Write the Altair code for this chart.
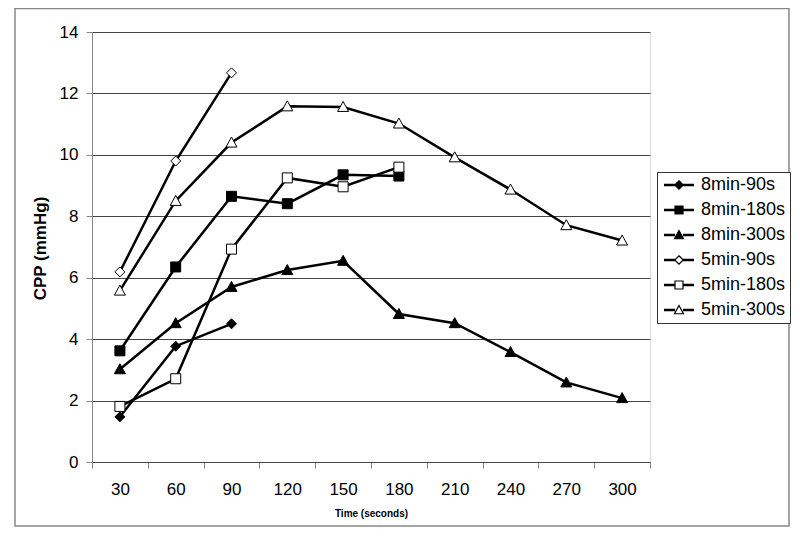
import altair as alt
import pandas as pd

times = [30, 60, 90, 120, 150, 180, 210, 240, 270, 300]
series = ["8min-90s", "8min-180s", "8min-300s", "5min-90s", "5min-180s", "5min-300s"]
v_8_90 = [1.47, 3.77, 4.50]
v_8_180 = [3.62, 6.35, 8.65, 8.41, 9.35, 9.31]
v_8_300 = [3.02, 4.52, 5.70, 6.25, 6.55, 4.82, 4.52, 3.58, 2.59, 2.08]
v_5_90 = [6.19, 9.80, 12.67]
v_5_180 = [1.81, 2.71, 6.93, 9.25, 8.96, 9.60]
v_5_300 = [5.58, 8.50, 10.40, 11.58, 11.56, 11.02, 9.92, 8.87, 7.71, 7.21]
fills = ["black", "black", "black", "white", "white", "white"]

values = [v_8_90, v_8_180, v_8_300, v_5_90, v_5_180, v_5_300]
rows = []
for name, vals in zip(series, values):
    for t, v in zip(times, vals):
        rows.append({"series": name, "time": t, "cpp": v})
df = pd.DataFrame(rows)

# marker shapes (unit space, scaled by size)
DIAM = "M0,-1L1,0L0,1L-1,0Z"
SQR = "M-1,-1H1V1H-1Z"
TRI = "M0,-1.1L1.1,0.9H-1.1Z"
marker_paths = [DIAM, SQR, TRI, DIAM, SQR, TRI]

LINE = ("M-3,-0.15H-0.8M-3,0.15H-0.8M-3,0H-0.8"
        "M0.8,-0.15H3M0.8,0.15H3M0.8,0H3")
L_DIAM = LINE + "M0,-0.85L0.85,0L0,0.85L-0.85,0Z"
L_SQR = LINE + "M-0.8,-0.8H0.8V0.8H-0.8Z"
L_TRI = LINE + "M0,-0.9L0.9,0.75H-0.9Z"
legend_paths = [L_DIAM, L_SQR, L_TRI, L_DIAM, L_SQR, L_TRI]

FONT = "Liberation Sans"

x_enc = alt.X(
    "time:O",
    bandPosition=0.5,
    scale=alt.Scale(type="band", domain=times, paddingInner=0, paddingOuter=0),
    axis=alt.Axis(
        title="Time (seconds)",
        titleFont=FONT, titleFontSize=10, titleFontWeight="bold", titleColor="black",
        titleY=51, titleBaseline="middle",
        labelFont=FONT, labelFontSize=17, labelColor="black", labelAngle=0,
        labelPadding=13, tickSize=6, tickBand="extent",
        tickColor="#888", domainColor="#444", grid=False,
    ),
)
y_enc = alt.Y(
    "cpp:Q",
    scale=alt.Scale(domain=[0, 14], nice=False),
    axis=alt.Axis(
        title="CPP (mmHg)", values=[0, 2, 4, 6, 8, 10, 12, 14],
        titleFont=FONT, titleFontSize=17, titleFontWeight="bold", titleColor="black",
        titleX=-52, titleY=216, titleAngle=-90, titleAlign="center", titleBaseline="middle",
        labelFont=FONT, labelFontSize=17, labelColor="black",
        labelPadding=8, tickSize=6, tickColor="#888", domainColor="#888",
        grid=True, gridColor="#444", gridWidth=1,
    ),
)

base = alt.Chart(df)

lines = base.mark_line(color="black", strokeWidth=2.5).encode(
    x=x_enc, y=y_enc, detail="series:N",
    order="time:Q",
)

points = base.mark_point(filled=True, stroke="black", strokeWidth=1, size=100, opacity=1).encode(
    x=x_enc, y=y_enc,
    color=alt.Color("series:N", scale=alt.Scale(domain=series, range=fills), legend=None),
    shape=alt.Shape("series:N", scale=alt.Scale(domain=series, range=marker_paths), legend=None),
)

legend_layer = base.transform_filter("datum.cpp < -100").mark_point(
    filled=True, stroke="black", strokeWidth=1.2, size=100, opacity=1
).encode(
    x=x_enc, y=y_enc,
    color=alt.Color("series:N", scale=alt.Scale(domain=series, range=fills),
                    legend=alt.Legend(title=None, orient="none", legendX=565, legendY=140)),
    shape=alt.Shape("series:N", scale=alt.Scale(domain=series, range=legend_paths),
                    legend=alt.Legend(title=None, orient="none", legendX=565, legendY=140,
                                      padding=4, strokeColor="#333", fillColor="white",
                                      labelFont=FONT, labelFontSize=18, labelColor="black",
                                      symbolOffset=9, labelOffset=13, rowPadding=7,
                                      symbolSize=100, symbolStrokeWidth=1.2,
                                      symbolStrokeColor="black")),
)

frame = alt.Chart(pd.DataFrame({"a": [0]})).mark_rect(
    fill="white", fillOpacity=0, stroke="#888", strokeWidth=1.5
).encode(
    x=alt.value(-77), x2=alt.value(697), y=alt.value(-23.5), y2=alt.value(494)
)

chart = alt.layer(frame, lines, points, legend_layer).resolve_scale(
    color="independent", shape="independent"
).properties(
    width=558, height=430,
    autosize=alt.AutoSizeParams(type="none"),
    padding={"left": 84, "top": 24, "right": 142, "bottom": 66},
).configure_view(stroke=None).configure(background="white")

chart.save("out.html", embed_options={"renderer": "svg", "actions": False})
